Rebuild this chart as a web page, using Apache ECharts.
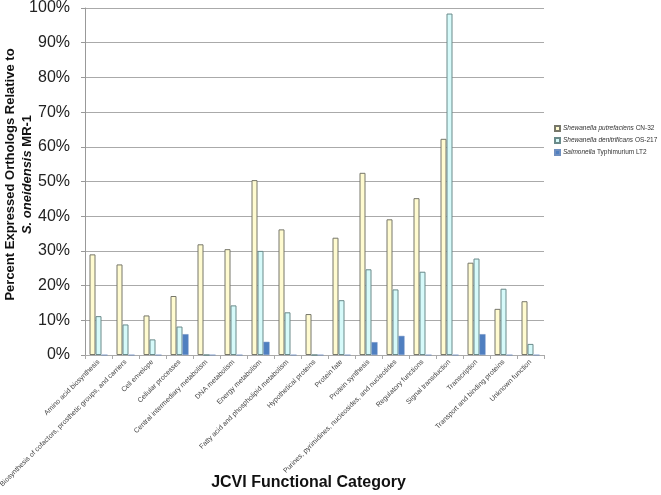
<!DOCTYPE html>
<html><head><meta charset="utf-8">
<script src="https://cdn.jsdelivr.net/npm/echarts@6/dist/echarts.min.js"></script>
<style>html,body{margin:0;padding:0;background:#fff}#c{width:661px;height:495px}</style>
</head><body><div id="c"></div>
<script>
const categories = ["Amino acid biosynthesis","Biosynthesis of cofactors, prosthetic groups, and carriers","Cell envelope","Cellular processes","Central intermediary metabolism","DNA metabolism","Energy metabolism","Fatty acid and phospholipid metabolism","Hypothetical proteins","Protein fate","Protein synthesis","Purines, pyrimidines, nucleosides, and nucleotides","Regulatory functions","Signal transduction","Transcription","Transport and binding proteins","Unknown function"];
const putrefaciens = [29.0,26.1,11.4,17.0,31.9,30.5,50.4,36.2,11.8,33.8,52.5,39.1,45.2,62.3,26.6,13.3,15.5];
const denitrificans = [11.2,8.8,4.5,8.2,0,14.3,30.0,12.3,0,15.8,24.7,18.9,24.0,98.4,27.8,19.1,3.2];
const typhimurium = [0,0,0,6.0,0,0,3.8,0,0,0,3.7,5.5,0,0,6.0,0,0];
const seriesNames = ["Shewanella putrefaciens CN-32","Shewanella denitrificans OS-217","Salmonella Typhimurium LT2"];
const yTicks = [0,10,20,30,40,50,60,70,80,90,100];

const chart = echarts.init(document.getElementById('c'));
const font = 'Liberation Sans, Arial, sans-serif';
function legendFmt(n){
  const k = n.startsWith('Salmonella') ? 1 : 2;
  const parts = n.split(' ');
  return '{i|' + parts.slice(0,k).join(' ') + '} ' + parts.slice(k).join(' ');
}
chart.setOption({
  animation:false,
  textStyle:{fontFamily:font},
  grid:{left:85,right:117,top:8,bottom:140,containLabel:false,outerBoundsMode:'none'},
  legend:{
    orient:'vertical', left:554, top:125, itemWidth:5, itemHeight:5, itemGap:5,
    icon:'rect', padding:0,
    data:seriesNames,
    formatter:legendFmt,
    textStyle:{fontSize:6.5,color:'#333',fontFamily:font,padding:[0,0,0,-2],rich:{i:{fontStyle:'italic',fontSize:6.5,color:'#333',fontFamily:font}}}
  },
  xAxis:{
    type:'category', data:categories,
    axisLine:{lineStyle:{color:'#aaa'}},
    axisTick:{show:true,alignWithLabel:false,length:4,lineStyle:{color:'#aaa'}},
    axisLabel:{rotate:45,fontSize:7,color:'#444',interval:0,margin:6,fontFamily:font},
    name:'JCVI Functional Category', nameLocation:'middle', nameGap:120, nameMoveOverlap:false,
    nameTextStyle:{fontSize:16,fontWeight:'bold',color:'#111',fontFamily:font,padding:[0,12,0,0]}
  },
  yAxis:{
    type:'value', min:0, max:100, interval:10,
    axisLine:{show:true,lineStyle:{color:'#999'}},
    axisTick:{show:true,length:4,lineStyle:{color:'#999'}},
    splitLine:{lineStyle:{color:'#aaa'}},
    axisLabel:{formatter:v=>v+'%',fontSize:16,color:'#222',margin:15,fontFamily:font},
    name:'{b|Percent Expressed Orthologs Relative to}\n{bi|S. oneidensis}{b| MR-1}',
    nameLocation:'middle', nameGap:49, nameRotate:90, nameMoveOverlap:false,
    nameTextStyle:{fontFamily:font,align:'center',verticalAlign:'bottom',padding:[0,0,0,14],rich:{
      b:{fontSize:13,fontWeight:'bold',color:'#111',lineHeight:17,fontFamily:font},
      bi:{fontSize:13,fontWeight:'bold',fontStyle:'italic',color:'#111',lineHeight:17,fontFamily:font}
    }}
  },
  series:[
    {name:seriesNames[0],type:'bar',data:putrefaciens,barWidth:6,barGap:'0%',
      itemStyle:{color:'#FFFBD0',borderColor:'#77776a',borderWidth:1}},
    {name:seriesNames[1],type:'bar',data:denitrificans,barWidth:6,barGap:'0%',
      itemStyle:{color:'#D6FAFA',borderColor:'#6a8a8a',borderWidth:1}},
    {name:seriesNames[2],type:'bar',data:typhimurium,barWidth:6,barGap:'0%',
      itemStyle:{color:'#4F7FC0',borderColor:'#6f8fc0',borderWidth:0.5}}
  ]
});
</script></body></html>
